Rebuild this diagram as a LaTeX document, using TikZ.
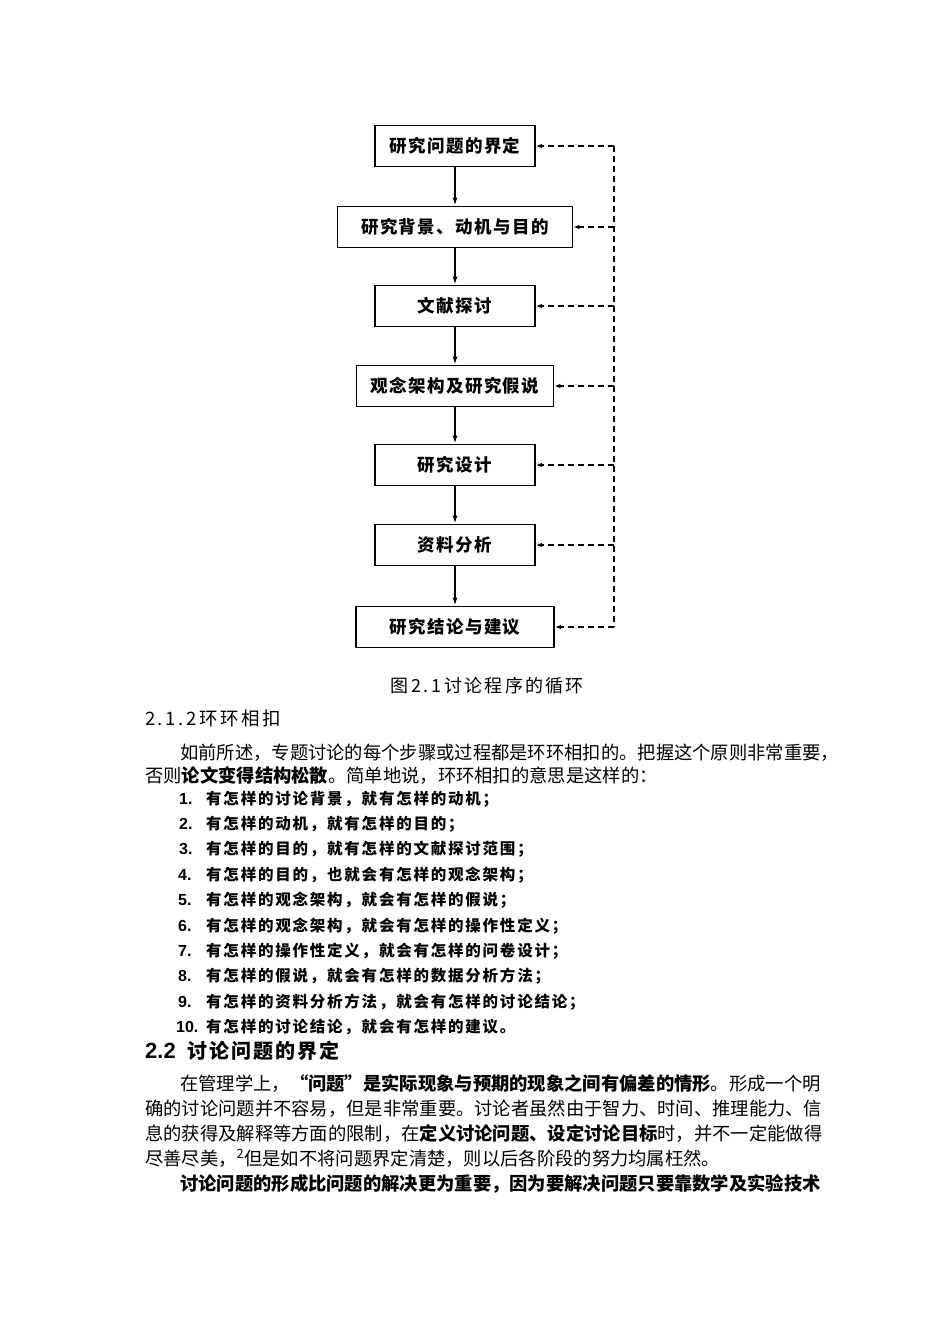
\documentclass[tikz,border=0pt]{standalone}
\usepackage{fontspec}
\setmainfont{Noto Sans CJK SC}
\newfontfamily\lsans{Liberation Sans}
\newfontfamily\itemcjk{Noto Sans CJK SC}[LetterSpace=11.5]
\newfontfamily\boxcjk{Noto Sans CJK SC}[LetterSpace=8]
\newfontfamily\headcjk{Noto Sans CJK SC}[LetterSpace=10]
\newfontfamily\capcjk{Noto Sans CJK SC}[LetterSpace=12]
\usetikzlibrary{arrows.meta}
\begin{document}
\begin{tikzpicture}[x=1pt,y=-1pt,
  stepbox/.style={draw,line width=1.8pt,minimum height=41pt,inner sep=0pt,
    font=\boxcjk\bfseries\fontsize{17.5}{17.5}\selectfont},
  flow/.style={line width=1.5pt,-{Latex[length=8pt,width=5pt]}},
  fb/.style={line width=1.3pt,dash pattern=on 6pt off 4pt},
  fbarr/.style={fb,-{Latex[length=6pt,width=4.5pt]}},
  txt/.style={anchor=base west,inner sep=0pt,font=\fontsize{18.3}{18.3}\selectfont},
  itm/.style={anchor=base west,inner sep=0pt,font=\itemcjk\bfseries\fontsize{15.5}{15.5}\selectfont},
  num/.style={anchor=base west,inner sep=0pt,font=\lsans\bfseries\fontsize{16}{16}\selectfont},
]
\useasboundingbox[fill=white] (0,0) rectangle (950,1344);

% flow chart boxes
\node[stepbox,minimum width=160pt] (b1) at (455,146) {研究问题的界定};
\node[stepbox,minimum width=235pt] (b2) at (455,227) {研究背景、动机与目的};
\node[stepbox,minimum width=160pt] (b3) at (455,306) {文献探讨};
\node[stepbox,minimum width=197pt] (b4) at (455,386) {观念架构及研究假说};
\node[stepbox,minimum width=160pt] (b5) at (455,465) {研究设计};
\node[stepbox,minimum width=160pt] (b6) at (455,545) {资料分析};
\node[stepbox,minimum width=198pt] (b7) at (455,627) {研究结论与建议};

\draw[flow] (b1) -- (b2);
\draw[flow] (b2) -- (b3);
\draw[flow] (b3) -- (b4);
\draw[flow] (b4) -- (b5);
\draw[flow] (b5) -- (b6);
\draw[flow] (b6) -- (b7);

% feedback line
\coordinate (c1) at (614,146);
\coordinate (c2) at (614,227);
\coordinate (c3) at (614,306);
\coordinate (c4) at (614,386);
\coordinate (c5) at (614,465);
\coordinate (c6) at (614,545);
\coordinate (c7) at (614,627);
\draw[fb] (c1) -- (c7);
\foreach \i in {1,...,7} {\draw[fbarr] (c\i) -- (b\i.east);}

% caption
\node[anchor=base,inner sep=0pt,font=\capcjk\fontsize{18}{18}\selectfont] (cap) at (487,692) {图\,2.\,1\,讨论程序的循环};

% heading 2.1.2
\node[anchor=base west,inner sep=0pt,font=\capcjk\fontsize{18.5}{18.5}\selectfont] (h1) at (145,725) {2.\,1.\,2\,环环相扣};

% paragraph 1
\node[txt] (p1a) at (180,759) {如前所述，专题讨论的每个步骤或过程都是环环相扣的。把握这个原则非常重要，};
\node[txt] (p1b) at (145,782) {否则\textbf{论文变得结构松散}。简单地说，环环相扣的意思是这样的：};

% list
\node[num] (n1) at (179,804) {1.};
\node[itm] (i1) at (206,804) {有怎样的讨论背景，就有怎样的动机；};
\node[num] (n2) at (179,829.4) {2.};
\node[itm] (i2) at (206,829.4) {有怎样的动机，就有怎样的目的；};
\node[num] (n3) at (179,854.8) {3.};
\node[itm] (i3) at (206,854.8) {有怎样的目的，就有怎样的文献探讨范围；};
\node[num] (n4) at (178,880.2) {4.};
\node[itm] (i4) at (206,880.2) {有怎样的目的，也就会有怎样的观念架构；};
\node[num] (n5) at (178,905.6) {5.};
\node[itm] (i5) at (206,905.6) {有怎样的观念架构，就会有怎样的假说；};
\node[num] (n6) at (178,931) {6.};
\node[itm] (i6) at (206,931) {有怎样的观念架构，就会有怎样的操作性定义；};
\node[num] (n7) at (178,956.4) {7.};
\node[itm] (i7) at (206,956.4) {有怎样的操作性定义，就会有怎样的问卷设计；};
\node[num] (n8) at (178,981.8) {8.};
\node[itm] (i8) at (206,981.8) {有怎样的假说，就会有怎样的数据分析方法；};
\node[num] (n9) at (178,1007.2) {9.};
\node[itm] (i9) at (206,1007.2) {有怎样的资料分析方法，就会有怎样的讨论结论；};
\node[num] (n10) at (176,1032.6) {10.};
\node[itm] (i10) at (206,1032.6) {有怎样的讨论结论，就会有怎样的建议。};

% heading 2.2
\node[anchor=base west,inner sep=0pt,font=\lsans\bfseries\fontsize{22}{22}\selectfont] (h2n) at (145,1058) {2.2};
\node[anchor=base west,inner sep=0pt,font=\headcjk\bfseries\fontsize{20}{20}\selectfont] (h2t) at (187,1058) {讨论问题的界定};

% paragraph 2
\node[txt] (p2a) at (180,1090) {在管理学上，\textbf{“问题”是实际现象与预期的现象之间有偏差的情形}。形成一个明};
\node[txt] (p2b) at (145,1115) {确的讨论问题并不容易，但是非常重要。讨论者虽然由于智力、时间、推理能力、信};
\node[txt] (p2c) at (145,1140) {息的获得及解释等方面的限制，在\textbf{定义讨论问题、设定讨论目标}时，并不一定能做得};
\node[txt] (p2d) at (145,1165) {尽善尽美，\textsuperscript{2}但是如不将问题界定清楚，则以后各阶段的努力均属枉然。};
\node[txt] (p2e) at (180,1190) {\textbf{讨论问题的形成比问题的解决更为重要，因为要解决问题只要靠数学及实验技术}};
\end{tikzpicture}
\end{document}
